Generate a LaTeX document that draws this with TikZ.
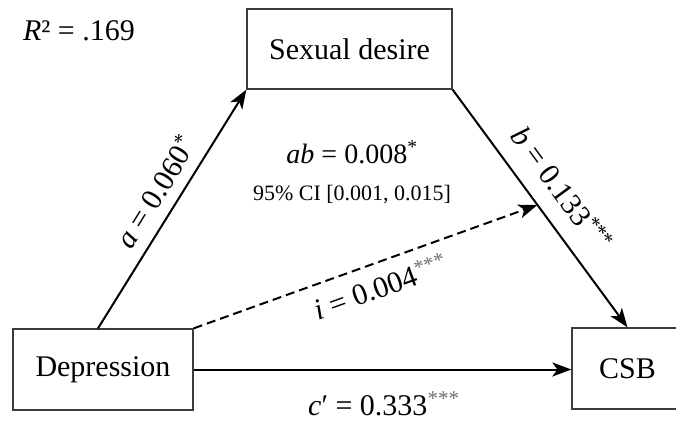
\documentclass[tikz,border=0pt]{standalone}
\usepackage{fontspec}
\setmainfont{Liberation Serif}
\usetikzlibrary{arrows.meta,calc}
\definecolor{boxline}{RGB}{60,60,60}
\definecolor{stargray}{RGB}{110,110,110}
\tikzset{
  box/.style={draw=boxline, line width=1.3pt, rectangle, font=\fontsize{30}{34}\selectfont, inner sep=0pt},
  conn/.style={line width=2pt, -{Stealth[length=19pt,width=14pt,inset=5pt]}},
  dashconn/.style={conn, dash pattern=on 9pt off 5pt},
  lbl/.style={font=\fontsize{30}{34}\selectfont, inner sep=2pt},
  smalllbl/.style={font=\fontsize{22}{26}\selectfont, inner sep=0pt}
}
\newcommand{\stars}[1]{\textsuperscript{#1}}
\begin{document}
\begin{tikzpicture}[x=1pt,y=-1pt]
\useasboundingbox (0,0) rectangle (676,421);
\clip (0,0) rectangle (676,421);
% boxes
\node[box, minimum width=205pt, minimum height=80pt] (sd) at (349.5,49) {Sexual desire};
\node[box, minimum width=180pt, minimum height=81pt] (dep) at (103,369.5) {Depression};
\node[box, minimum width=111pt, minimum height=81pt] (csb) at (627.5,368.5) {CSB};
% R squared
\node[lbl, font=\fontsize{30}{34}\selectfont, inner sep=0pt] (r2) at (79,31) {\textit{R}² = .169};
% connectors
\coordinate (bmid) at ($(sd.south east)!0.485!(csb.north)$);
\draw[conn] ([xshift=-5pt]dep.north) -- (sd.south west)
  node[lbl, pos=0.52, sloped, above=9pt] (la) {\textit{a} = 0.060\stars{*}};
\draw[conn] (sd.south east) -- (csb.north)
  node[lbl, pos=0.49, sloped, above=15pt] (lb) {\textit{b} = 0.133\stars{***}};
\draw[dashconn] (dep.north east) -- (bmid)
  node[lbl, pos=0.52, sloped, below=9pt] (li) {\textit{i} = 0.004\textcolor{stargray}{\stars{***}}};
\draw[conn] (dep.east) -- (dep.east -| csb.west);
% c' label
\node[lbl, anchor=base west, inner sep=0pt] (lc) at (308,415) {\textit{c}′ = 0.333\textcolor{stargray}{\stars{***}}};
% indirect effect
\node[lbl, font=\fontsize{28}{32}\selectfont, anchor=base, inner sep=0pt] (lab) at (352,163) {\textit{ab} = 0.008\stars{*}};
\node[smalllbl, anchor=base] (ci) at (352,200) {95\% CI [0.001, 0.015]};
\end{tikzpicture}
\end{document}
